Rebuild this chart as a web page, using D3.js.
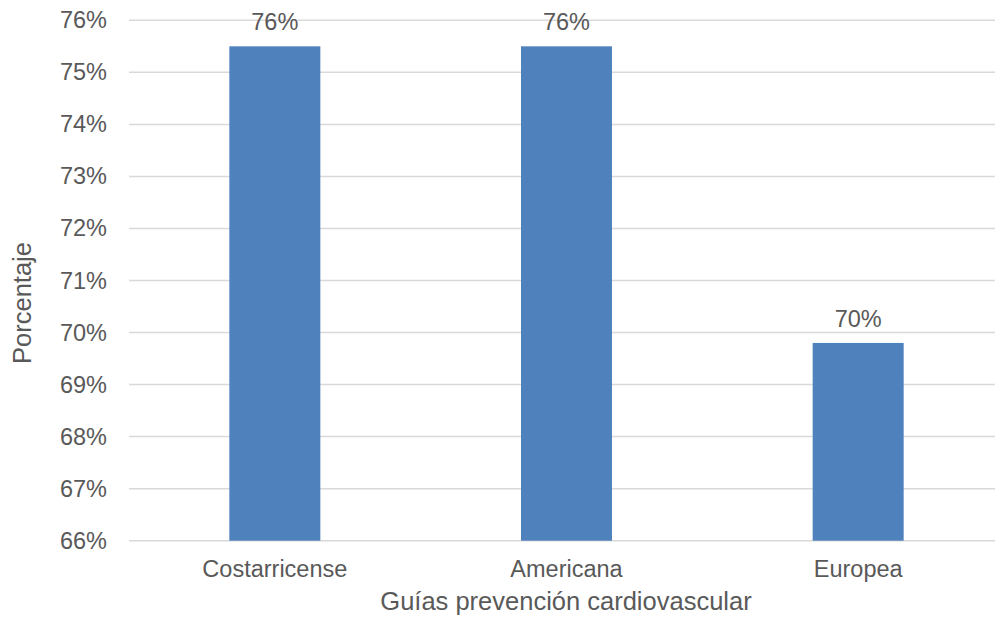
<!DOCTYPE html>
<html>
<head>
<meta charset="utf-8">
<script src="https://cdn.jsdelivr.net/npm/d3@7"></script>
<style>
html,body{margin:0;padding:0;background:#fff;}
svg text{font-family:"Liberation Sans",Arial,sans-serif;fill:#595959;}
</style>
</head>
<body>
<svg id="chart" width="995" height="622"></svg>
<script>
const categories = ["Costarricense", "Americana", "Europea"];
const values = [75.5, 75.5, 69.8];
const dataLabels = ["76%", "76%", "70%"];
const yTicks = [66, 67, 68, 69, 70, 71, 72, 73, 74, 75, 76];
const xTitle = "Guías prevención cardiovascular";
const yTitle = "Porcentaje";

(function () {
const svg = d3.select("#chart");
const mLeft = 129, mRight = 1004, mTop = 20.3, mBottom = 540.7;

const x = d3.scaleBand().domain(categories).range([mLeft, mRight]).paddingInner(0.688).paddingOuter(0.344);
const y = d3.scaleLinear().domain([66, 76]).range([mBottom, mTop]);

// gridlines
svg.append("g").selectAll("line").data(yTicks).join("line")
  .attr("x1", mLeft).attr("x2", 995)
  .attr("y1", d => y(d)).attr("y2", d => y(d))
  .attr("stroke", "#d9d9d9").attr("stroke-width", 1.5);

// y axis labels
const yAxis = d3.axisLeft(y).tickValues(yTicks).tickFormat(d => d + "%").tickSize(0).tickPadding(22);
const gy = svg.append("g").attr("transform", `translate(${mLeft},0)`).call(yAxis);
gy.select(".domain").remove();
gy.selectAll("text").style("font-size", "23.5px").attr("fill", "#595959").style("font-family", '"Liberation Sans",Arial,sans-serif');

// bars
svg.append("g").selectAll("rect").data(values).join("rect")
  .attr("x", (d, i) => x(categories[i]))
  .attr("width", x.bandwidth())
  .attr("y", d => y(d))
  .attr("height", d => y(66) - y(d))
  .attr("fill", "#4f81bd");

// data labels
svg.append("g").selectAll("text").data(values).join("text")
  .attr("x", (d, i) => x(categories[i]) + x.bandwidth() / 2)
  .attr("y", d => y(d) - 16)
  .attr("text-anchor", "middle")
  .style("font-size", "23.5px")
  .text((d, i) => dataLabels[i]);

// x axis labels
const xAxis = d3.axisBottom(x).tickSize(0).tickPadding(0);
const gx = svg.append("g").attr("transform", `translate(0,${mBottom})`).call(xAxis);
gx.select(".domain").remove();
gx.selectAll("text").attr("dy", null).attr("y", 36.5).style("font-size", "23.5px").attr("fill", "#595959").style("font-family", '"Liberation Sans",Arial,sans-serif');

// axis titles
svg.append("text").attr("x", 566).attr("y", 610).attr("text-anchor", "middle")
  .style("font-size", "25.5px").text(xTitle);
svg.append("text").attr("transform", "translate(30.5,303) rotate(-90)").attr("text-anchor", "middle")
  .style("font-size", "25.5px").text(yTitle);
})();
</script>
</body>
</html>
